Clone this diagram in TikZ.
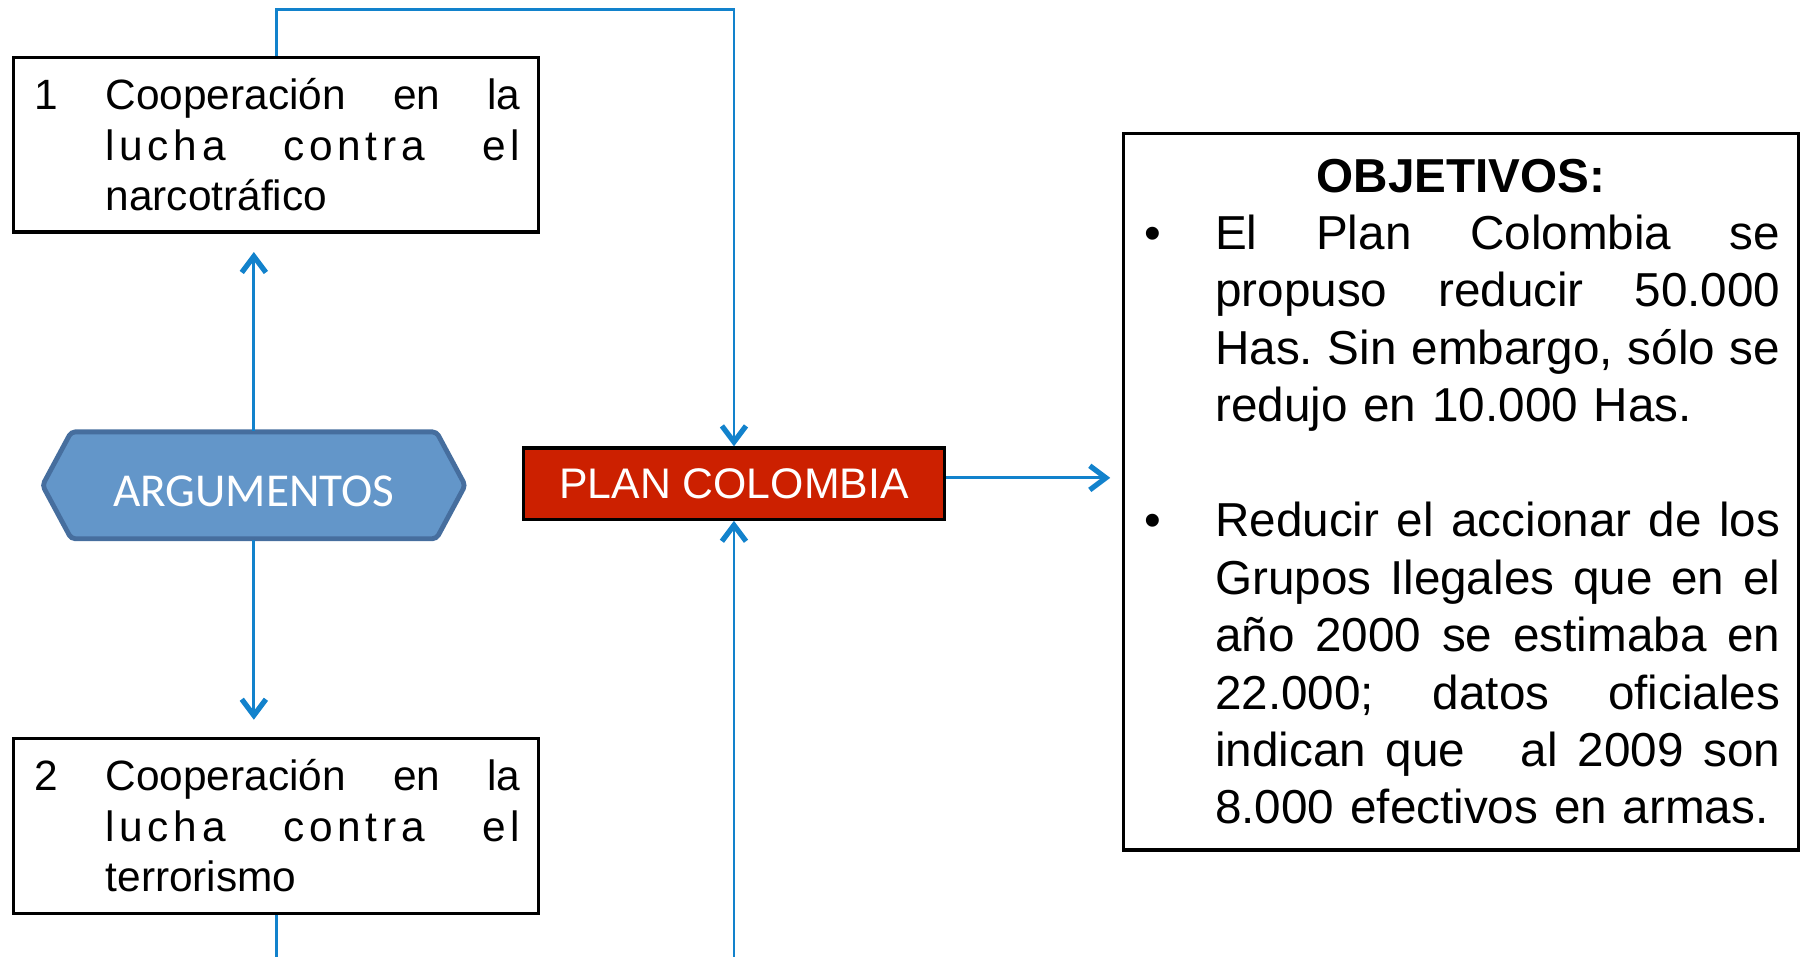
\documentclass[tikz,border=0pt]{standalone}
\usepackage{fontspec}
\setmainfont{Liberation Sans}
\newfontfamily\calibrifont{Carlito}
\usetikzlibrary{arrows.meta}

\definecolor{linkblue}{RGB}{18,130,204}
\definecolor{argfill}{RGB}{99,150,201}
\definecolor{argline}{RGB}{70,110,158}
\definecolor{planred}{RGB}{204,32,0}

\tikzset{
	numbox/.style={draw=black, line width=0.8pt, minimum width=4.57cm, minimum height=1.52cm, inner sep=0pt, text width=4.57cm, align=left, font=\fontsize{10.5}{12.5}\selectfont},
	planbox/.style={draw=black, line width=0.8pt, fill=planred, text=white, minimum width=3.66cm, minimum height=0.62cm, inner sep=0pt, font=\fontsize{10.6}{12.5}\selectfont},
	objbox/.style={draw=black, line width=0.8pt, minimum width=5.88cm, minimum height=6.24cm, inner xsep=0.1cm, inner ysep=0pt, text width=5.68cm, align=left, font=\fontsize{11.8}{14.23}\selectfont},
	link/.style={draw=linkblue, line width=0.7pt},
	tip/.style={-{Straight Barb[length=1.4mm,width=2.1mm,line width=1.3pt]}},
}

\begin{document}
\begin{tikzpicture}
	
	\useasboundingbox (0,0) rectangle (15.68,-8.33);
	
	% hexagon behind ARGUMENTOS
	\filldraw[fill=argfill, draw=argline, line width=1.2pt, rounded corners=1pt] (0.37,-4.225) -- (0.62,-3.76) -- (3.80,-3.76) -- (4.05,-4.225) -- (3.80,-4.69) -- (0.62,-4.69) -- cycle;
	
	\node[minimum width=3.68cm, minimum height=0.93cm, inner sep=0pt, text height=0.37cm, text depth=0pt, text=white, font=\calibrifont\fontsize{11.7}{14}\selectfont] (arg) at (2.21,-4.225) {ARGUMENTOS};
	
	\node[numbox] (narco) at (2.405,-1.26) {\hspace*{0.18cm}\makebox[0.62cm][l]{1}\makebox[3.61cm]{Cooperación\hfill en\hfill la}\\
		\hspace*{0.80cm}\makebox[3.61cm]{\addfontfeature{LetterSpace=11}lucha\hfill contra\hfill el}\\
		\hspace*{0.80cm}narcotráfico};
	\node[numbox] (terror) at (2.405,-7.19) {\hspace*{0.18cm}\makebox[0.62cm][l]{2}\makebox[3.61cm]{Cooperación\hfill en\hfill la}\\
		\hspace*{0.80cm}\makebox[3.61cm]{\addfontfeature{LetterSpace=11}lucha\hfill contra\hfill el}\\
		\hspace*{0.80cm}terrorismo};
	
	\node[planbox] (plan) at (6.39,-4.21) {PLAN COLOMBIA};
	
	\node[objbox] (obj) at (12.72,-4.28) {\makebox[5.68cm][c]{\bfseries OBJETIVOS:}\\
		\hspace*{0.08cm}\makebox[0.62cm][l]{\textbullet}\makebox[4.92cm]{El\hfill Plan\hfill Colombia\hfill se}\\
		\hspace*{0.70cm}\makebox[4.92cm]{propuso\hfill reducir\hfill 50.000}\\
		\hspace*{0.70cm}\makebox[4.92cm]{Has.\hfill Sin\hfill embargo,\hfill sólo\hfill se}\\
		\hspace*{0.70cm}redujo en 10.000 Has.\\
		\mbox{}\\
		\hspace*{0.08cm}\makebox[0.62cm][l]{\textbullet}\makebox[4.92cm]{Reducir\hfill el\hfill accionar\hfill de\hfill los}\\
		\hspace*{0.70cm}\makebox[4.92cm]{Grupos\hfill Ilegales\hfill que\hfill en\hfill el}\\
		\hspace*{0.70cm}\makebox[4.92cm]{año\hfill 2000\hfill se\hfill estimaba\hfill en}\\
		\hspace*{0.70cm}\makebox[4.92cm]{22.000;\hfill datos\hfill oficiales}\\
		\hspace*{0.70cm}\makebox[4.92cm]{indican\hfill que\hfill\ \hfill al\hfill 2009\hfill son}\\
		\hspace*{0.70cm}8.000 efectivos en armas.};
	
	\coordinate (tl) at (2.405,-0.08);
	\coordinate (tr) at (6.39,-0.08);
	\coordinate (bl) at (2.405,-8.33);
	\coordinate (br) at (6.39,-8.33);
	
	\draw[link,tip] (narco.north) -- (tl) -- (tr) -- (plan.north);
	\draw[link,tip,shorten >=0.16cm] (arg.north) -- (arg.north |- narco.south);
	\draw[link,tip,shorten >=0.15cm] (arg.south) -- (arg.south |- terror.north);
	\draw[link] (terror.south) -- (bl);
	\draw[link,tip] (br) -- (plan.south);
	\draw[link,tip,shorten >=0.1cm] ([yshift=0.05cm]plan.east) -- ([yshift=0.05cm]plan.east -| obj.west);
	
\end{tikzpicture}
\end{document}
